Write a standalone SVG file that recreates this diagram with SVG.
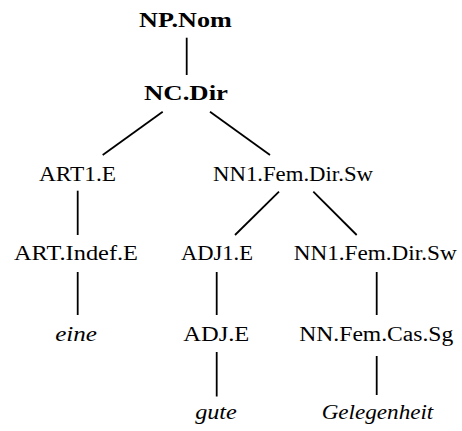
<svg xmlns="http://www.w3.org/2000/svg" width="462" height="431" viewBox="0 0 462 431">
<style>
.t{font-size:20px;fill:#000;text-anchor:middle}
.b{font-weight:bold}
.i{font-style:italic}
#edges line{stroke:#000;stroke-width:1.8;stroke-linecap:butt}
</style>
<rect width="462" height="431" fill="#fff"/>
<g id="edges">
<line x1="186.7" y1="37.7" x2="186.7" y2="75"/>
<line x1="162.7" y1="111.7" x2="102.7" y2="155"/>
<line x1="210" y1="111.7" x2="270" y2="155"/>
<line x1="77.7" y1="190.7" x2="77.7" y2="235"/>
<line x1="279" y1="191.7" x2="235" y2="235"/>
<line x1="313.3" y1="191.7" x2="356.7" y2="235"/>
<line x1="77.7" y1="272" x2="77.7" y2="315"/>
<line x1="216.7" y1="272" x2="216.7" y2="315"/>
<line x1="376.7" y1="272" x2="376.7" y2="315"/>
<line x1="216.7" y1="352" x2="216.7" y2="396.5"/>
<line x1="376.7" y1="356" x2="376.7" y2="395"/>
</g>
<g font-family="Liberation Serif, DejaVu Serif, Noto Serif, serif">
<g id="n-npnom"><text class="t b" x="185.4" y="27" textLength="92.7" lengthAdjust="spacingAndGlyphs">NP.Nom</text></g>
<g id="n-ncdir"><text class="t b" x="186" y="100" textLength="84" lengthAdjust="spacingAndGlyphs">NC.Dir</text></g>
<g id="n-art1e"><text class="t" x="77.5" y="181" textLength="77" lengthAdjust="spacingAndGlyphs">ART1.E</text></g>
<g id="n-nn1a"><text class="t" x="293" y="181" textLength="160" lengthAdjust="spacingAndGlyphs">NN1.Fem.Dir.Sw</text></g>
<g id="n-artindef"><text class="t" x="76" y="260" textLength="124" lengthAdjust="spacingAndGlyphs">ART.Indef.E</text></g>
<g id="n-adj1e"><text class="t" x="217" y="260" textLength="72" lengthAdjust="spacingAndGlyphs">ADJ1.E</text></g>
<g id="n-nn1b"><text class="t" x="375.2" y="260" textLength="163" lengthAdjust="spacingAndGlyphs">NN1.Fem.Dir.Sw</text></g>
<g id="n-eine"><text class="t i" x="76" y="341" textLength="41.7" lengthAdjust="spacingAndGlyphs">eine</text></g>
<g id="n-adje"><text class="t" x="216.3" y="341" textLength="66" lengthAdjust="spacingAndGlyphs">ADJ.E</text></g>
<g id="n-nnfem"><text class="t" x="376.3" y="341" textLength="154" lengthAdjust="spacingAndGlyphs">NN.Fem.Cas.Sg</text></g>
<g id="n-gute"><text class="t i" x="216" y="419" textLength="41.7" lengthAdjust="spacingAndGlyphs">gute</text></g>
<g id="n-gelegenheit"><text class="t i" x="377.5" y="419" textLength="111.6" lengthAdjust="spacingAndGlyphs">Gelegenheit</text></g>
</g>
</svg>
